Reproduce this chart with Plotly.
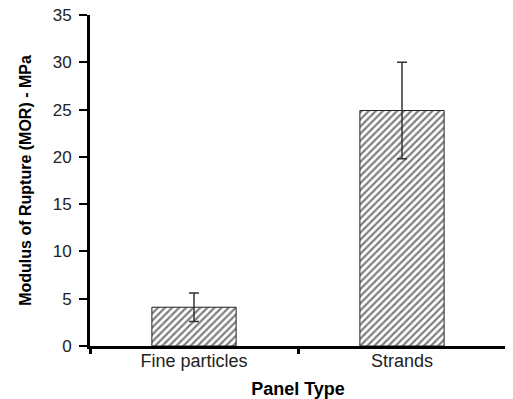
import plotly.graph_objects as go

categories = ["Fine particles", "Strands"]
mor_values = [4.1, 24.9]
mor_errors = [1.5, 5.1]
y_ticks = [0, 5, 10, 15, 20, 25, 30, 35]

fig = go.Figure()
fig.add_trace(go.Bar(
    x=categories, y=mor_values,
    width=0.405,
    marker=dict(color="white", line=dict(color="#222", width=1),
                pattern=dict(shape="/", fgcolor="black", bgcolor="white", size=5, solidity=0.45)),
    error_y=dict(type="data", array=mor_errors, visible=True, color="#333", thickness=1.5, width=5),
))
# page body adds an 8px offset, so the figure is 8px smaller and margins adjusted
fig.update_layout(
    width=505, height=391,
    margin=dict(l=82, r=7, t=7, b=53, autoexpand=False),
    plot_bgcolor="white", paper_bgcolor="white",
    font=dict(family="Liberation Sans, Arial", color="black"),
    showlegend=False,
)
fig.update_xaxes(
    type="category", range=[-0.5, 1.5], tickson="boundaries",
    ticks="outside", ticklen=5, tickwidth=3, tickcolor="black",
    showline=True, linecolor="black", linewidth=3, showgrid=False,
    tickfont=dict(size=18, color="#222"), ticklabelstandoff=-4, automargin=False,
    title=dict(text="<b>Panel Type</b>", font=dict(size=18), standoff=13),
)
fig.update_yaxes(
    range=[0, 35], tickvals=y_ticks,
    ticks="outside", ticklen=8, tickwidth=2, tickcolor="black",
    showline=True, linecolor="black", linewidth=3, showgrid=False, zeroline=False,
    tickfont=dict(size=17, color="#222"), ticklabelstandoff=4, automargin=False,
    ticklabeloverflow="allow",
    title=dict(text="<b>Modulus of Rupture (MOR) - MPa</b>", font=dict(size=16), standoff=18),
)
fig.write_html("out.html")
